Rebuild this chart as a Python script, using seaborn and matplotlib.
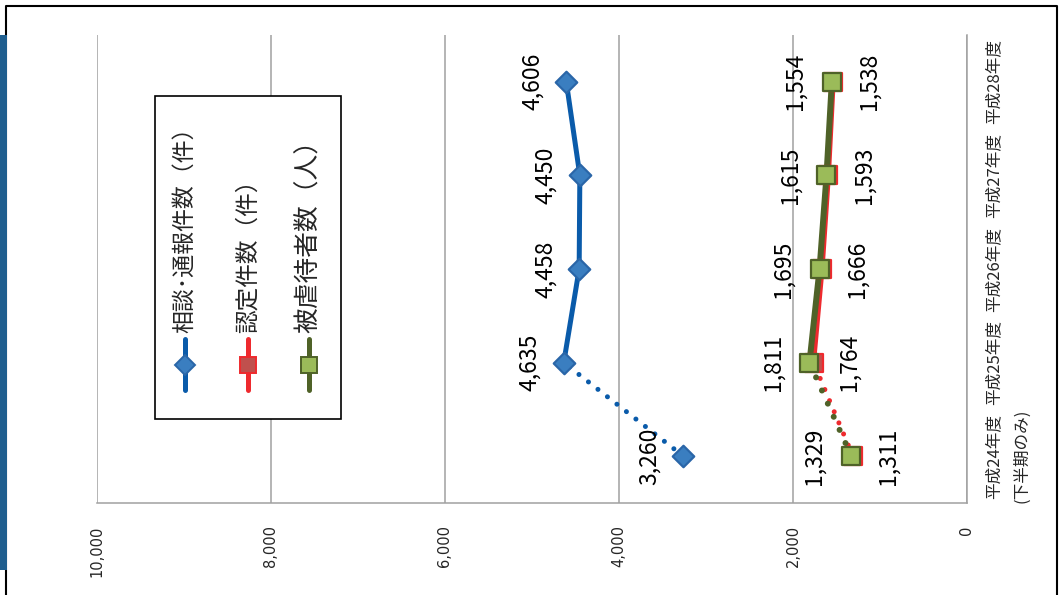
import matplotlib
matplotlib.use("Agg")
import matplotlib.pyplot as plt
import seaborn as sns
import numpy as np
import pandas as pd
from matplotlib.lines import Line2D
from matplotlib.patches import Rectangle

# ---- data ----
categories = ["平成24年度\n(下半期のみ)", "平成25年度", "平成26年度", "平成27年度", "平成28年度"]
soudan = [3260, 4635, 4458, 4450, 4606]      # 相談・通報件数（件）
nintei = [1311, 1764, 1666, 1593, 1538]      # 認定件数（件）
higyaku = [1329, 1811, 1695, 1615, 1554]     # 被虐待者数（人）
series_names = ["相談･通報件数（件）", "認定件数（件）", "被虐待者数（人）"]
value_ticks = [0, 2000, 4000, 6000, 8000, 10000]

sns.set_style("white")
plt.rcParams['font.family'] = ['Noto Sans CJK JP', 'DejaVu Sans']

W, H = 1061, 595
fig = plt.figure(figsize=(W / 100, H / 100), dpi=100)

def fx(px):
    return px / W

def fy(py):
    return 1 - py / H

ax = fig.add_axes([fx(97), fy(503), fx(967) - fx(97), fy(35) - fy(503)])
ax.set_facecolor("white")

pos = np.arange(len(categories))

GRID = "#A0A0A0"
BLUE_L, BLUE_F, BLUE_E = "#0A5BAA", "#3A7EC0", "#2A66A8"
RED_L, RED_F = "#EE2A2E", "#C0504D"
GRN_L, GRN_F = "#4F6228", "#9BBB59"
DOT = (0, (0.01, 2.4))


def draw_series(vals, line_color, lw, marker, msize, face, edge):
    v = np.array(vals)
    sns.lineplot(x=v[1:], y=pos[1:], sort=False, estimator=None, color=line_color,
                 lw=lw, solid_capstyle="round", ax=ax, zorder=3)
    sns.lineplot(x=v[:2], y=pos[:2], sort=False, estimator=None, color=line_color,
                 lw=lw, ls=DOT, dash_capstyle="round", ax=ax, zorder=3)
    sns.scatterplot(x=v, y=pos, marker=marker, s=msize, color=face, edgecolor=edge,
                    linewidth=1.6, ax=ax, zorder=4)


draw_series(nintei, RED_L, 3.6, "s", 150, RED_F, RED_L)
draw_series(higyaku, GRN_L, 4.3, "s", 170, GRN_F, GRN_L)
draw_series(soudan, BLUE_L, 3.6, "D", 120, BLUE_F, BLUE_E)

# data labels
for vals, off in ((soudan, -24.5), (higyaku, -26.5), (nintei, 25.5)):
    for i, v in enumerate(vals):
        ax.annotate(f"{v:,}", (v, pos[i]), xytext=(off, 0), textcoords="offset points",
                    rotation=90, ha="center", va="center", fontsize=16.5, color="black",
                    zorder=5)

# axes
ax.set_xlim(10000, 0)
ax.set_ylim(-0.5, len(categories) - 0.5)
ax.set_xticks(value_ticks)
ax.set_xticklabels([f"{t:,}" for t in value_ticks], rotation=90, fontsize=10.5,
                   family=["DejaVu Sans"])
ax.tick_params(axis="x", length=0, pad=16)
ax.yaxis.tick_right()
ax.set_yticks(pos)
ax.set_yticklabels(categories, rotation=90, fontsize=12, va="center",
                   multialignment="center", linespacing=1.85)
ax.tick_params(axis="y", length=0, pad=13)
ax.grid(axis="x", color=GRID, lw=1.1)
ax.grid(axis="y", visible=False)
ax.set_xlabel("")
ax.set_ylabel("")
for s in ("top", "left"):
    ax.spines[s].set_visible(False)
for s in ("bottom", "right"):
    ax.spines[s].set_color(GRID)
    ax.spines[s].set_linewidth(1.1)

# legend (rotated, drawn manually)
fig.add_artist(Rectangle((fx(155), fy(419)), fx(341) - fx(155), fy(96) - fy(419),
                         transform=fig.transFigure, facecolor="white", edgecolor="black",
                         lw=1.2, zorder=6))
leg_specs = [
    (185, BLUE_L, "D", 10, BLUE_F, BLUE_E, 16.5),
    (248, RED_L, "s", 12, RED_F, RED_L, 17),
    (309, GRN_L, "s", 12, GRN_F, GRN_L, 18.5),
]
for (lx, lc, mk, ms, mf, me, fs), name in zip(leg_specs, series_names):
    fig.add_artist(Line2D([fx(lx), fx(lx)], [fy(390), fy(339)], transform=fig.transFigure,
                          color=lc, lw=3.6, solid_capstyle="round", zorder=7))
    fig.add_artist(Line2D([fx(lx)], [fy(365)], transform=fig.transFigure, marker=mk,
                          ms=ms, mfc=mf, mec=me, mew=1.4, ls="none", zorder=8))
    fig.text(fx(lx), fy(333), name, rotation=90, ha="center", va="bottom",
             fontsize=fs, zorder=8)

# outer frame and left decoration
fig.add_artist(Line2D([fx(5.5), fx(5.5), fx(1057), fx(1057)],
                      [fy(600), fy(6), fy(6), fy(600)], transform=fig.transFigure,
                      color="black", lw=1.5, zorder=9))
fig.add_artist(Rectangle((0, fy(570)), fx(7), fy(35) - fy(570), transform=fig.transFigure,
                         facecolor="#1F5E8E", edgecolor="none", zorder=10))

fig.savefig("out.png", dpi=100)
